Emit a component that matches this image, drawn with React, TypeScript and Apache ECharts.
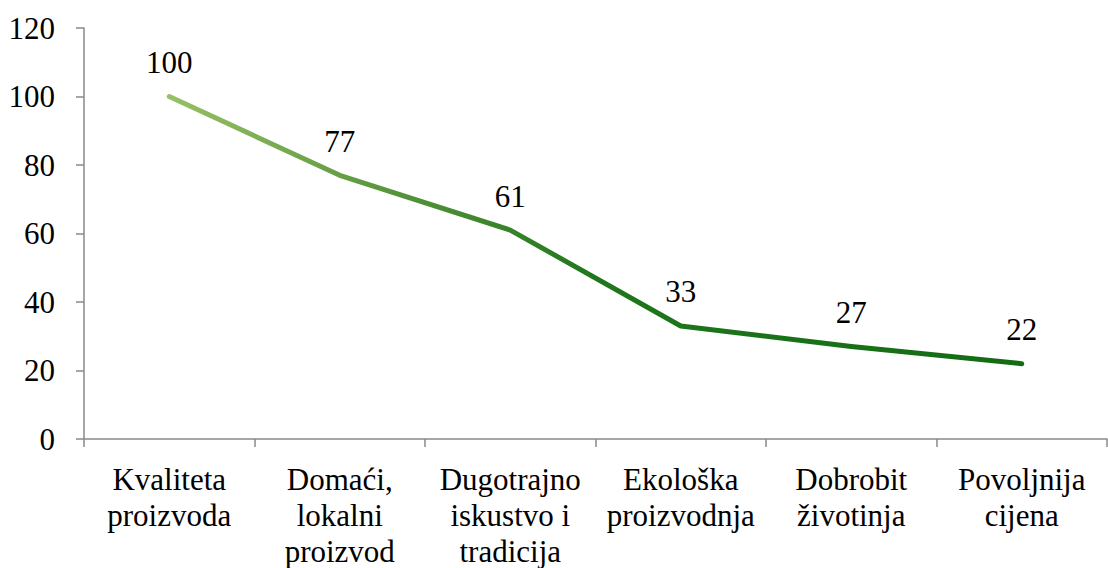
import React, { useEffect, useRef } from "react";
import * as echarts from "echarts";

const categories = [
  "Kvaliteta\nproizvoda",
  "Domaći,\nlokalni\nproizvod",
  "Dugotrajno\niskustvo i\ntradicija",
  "Ekološka\nproizvodnja",
  "Dobrobit\nživotinja",
  "Povoljnija\ncijena",
];
const values = [100, 77, 61, 33, 27, 22];
const yMin = 0;
const yMax = 120;
const yInterval = 20;

export default function App() {
  const ref = useRef<HTMLDivElement>(null);
  useEffect(() => {
    if (!ref.current) return;
    const chart = echarts.init(ref.current, null, { renderer: "svg" });
    const font = "Liberation Serif";
    chart.setOption({
      animation: false,
      backgroundColor: "#ffffff",
      grid: {
        left: 84,
        right: 1,
        top: 28,
        bottom: 129,
        containLabel: false,
        outerBoundsMode: "none",
      },
      xAxis: {
        type: "category",
        data: categories,
        boundaryGap: true,
        axisLine: { show: true, lineStyle: { color: "#898989", width: 1.5 } },
        axisTick: { show: true, length: 8, lineStyle: { color: "#898989", width: 1.5 } },
        axisLabel: {
          color: "#000",
          fontFamily: font,
          fontSize: 31,
          lineHeight: 36,
          margin: 22,
          interval: 0,
        },
        splitLine: { show: false },
      },
      yAxis: {
        type: "value",
        min: yMin,
        max: yMax,
        interval: yInterval,
        axisLine: { show: true, lineStyle: { color: "#898989", width: 1.5 } },
        axisTick: { show: true, length: 8, lineStyle: { color: "#898989", width: 1.5 } },
        axisLabel: {
          color: "#000",
          fontFamily: font,
          fontSize: 31,
          margin: 29,
        },
        splitLine: { show: false },
      },
      series: [
        {
          type: "line",
          data: values,
          symbol: "circle",
          symbolSize: 1,
          showSymbol: true,
          itemStyle: { color: "rgba(0,0,0,0)" },
          lineStyle: {
            width: 5,
            cap: "round",
            join: "round",
            color: new echarts.graphic.LinearGradient(0, 0, 1, 0, [
              { offset: 0, color: "#97c166" },
              { offset: 0.25, color: "#5a963d" },
              { offset: 0.5, color: "#1f761c" },
              { offset: 1, color: "#136c13" },
            ]),
          },
          label: {
            show: true,
            position: "top",
            distance: 18,
            color: "#000",
            fontFamily: font,
            fontSize: 31,
          },
        },
      ],
    });
    return () => chart.dispose();
  }, []);
  return (
    <div
      ref={ref}
      style={{ position: "fixed", left: 0, top: 0, width: 1108, height: 568 }}
    />
  );
}
